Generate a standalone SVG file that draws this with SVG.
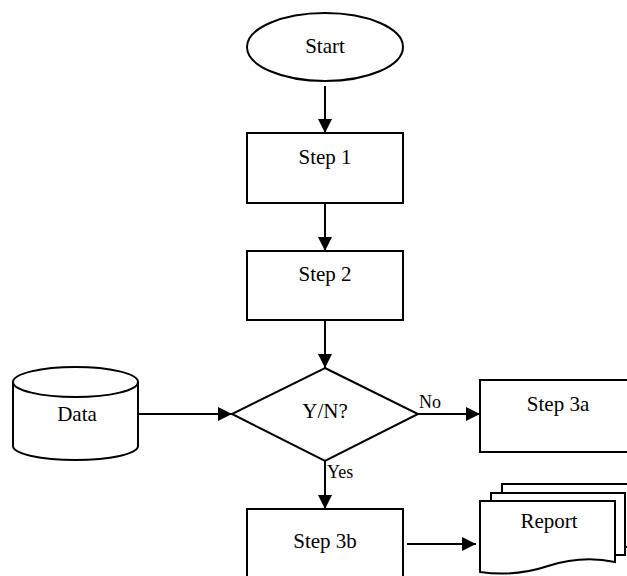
<svg xmlns="http://www.w3.org/2000/svg" width="627" height="576" viewBox="0 0 627 576">
<style>
.s{fill:#fff;stroke:#000;stroke-width:2}
.t{font-size:21px;fill:#000;text-anchor:middle}
.l{font-size:18px;fill:#000}
.c{fill:none;stroke:#000;stroke-width:2}
</style>
<defs>
<marker id="ah" markerUnits="userSpaceOnUse" markerWidth="15" markerHeight="15" refX="14" refY="7" orient="auto">
<path d="M0,0 L14,7 L0,14 Z" fill="#000"/>
</marker>
</defs>
<rect width="627" height="576" fill="#fff"/>
<g font-family="Liberation Serif, Times New Roman, Times, serif">
<g id="start"><ellipse class="s" cx="325" cy="47" rx="78" ry="34"/><text class="t" x="325" y="53">Start</text></g>
<g id="step1"><rect class="s" x="247" y="133" width="156" height="70"/><text class="t" x="325" y="164">Step 1</text></g>
<g id="step2"><rect class="s" x="247" y="251" width="156" height="69"/><text class="t" x="325" y="281">Step 2</text></g>
<g id="decision"><polygon class="s" points="325,368 418,414 325,461 232,414"/><text class="t" x="325" y="418">Y/N?</text></g>
<g id="data"><path class="s" d="M13,382 V446 A62.5,14 0 0 0 138,446 V382"/><ellipse class="s" cx="75.5" cy="382" rx="62.5" ry="15"/><text class="t" x="77" y="421">Data</text></g>
<g id="step3a"><rect class="s" x="480" y="380" width="160" height="72"/><text class="t" x="558" y="411">Step 3a</text></g>
<g id="step3b"><rect class="s" x="247" y="509" width="156" height="90"/><text class="t" x="325" y="548">Step 3b</text></g>
<g id="report">
<rect class="s" x="502" y="484" width="140" height="63"/>
<rect class="s" x="491" y="493" width="134" height="62"/>
<path class="s" d="M480,501 H615 V562 Q582,555 548,566 Q515,577 480,572 Z"/>
<text class="t" x="549" y="528">Report</text>
</g>
<g id="connectors">
<line class="c" x1="325" y1="86" x2="325" y2="133" marker-end="url(#ah)"/>
<line class="c" x1="325" y1="203" x2="325" y2="251" marker-end="url(#ah)"/>
<line class="c" x1="325" y1="320" x2="325" y2="368" marker-end="url(#ah)"/>
<line class="c" x1="325" y1="461" x2="325" y2="509" marker-end="url(#ah)"/>
<line class="c" x1="138" y1="414" x2="232" y2="414" marker-end="url(#ah)"/>
<line class="c" x1="418" y1="414" x2="480" y2="414" marker-end="url(#ah)"/>
<line class="c" x1="407" y1="544" x2="476" y2="544" marker-end="url(#ah)"/>
<text class="l" x="419" y="408">No</text>
<text class="l" x="327" y="478">Yes</text>
</g>
</g>
</svg>
